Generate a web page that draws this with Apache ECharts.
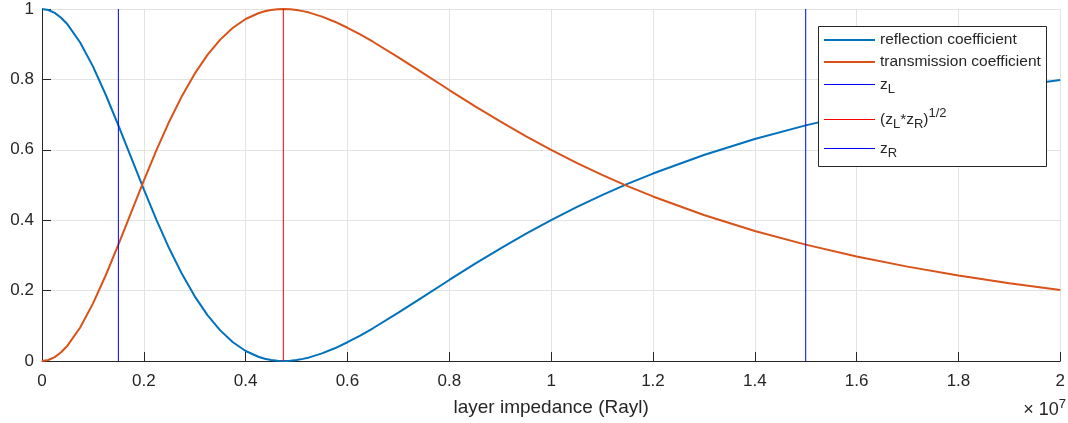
<!DOCTYPE html>
<html>
<head>
<meta charset="utf-8">
<script src="https://cdn.jsdelivr.net/npm/echarts@6/dist/echarts.min.js"></script>
<style>
  html, body { margin: 0; padding: 0; background: #ffffff; }
  #chart { width: 1068px; height: 423px; }
</style>
</head>
<body>
<div id="chart"></div>
<script>
// Layer impedance in units of 1e7 Rayl
const impedance = [
  0, 0.0125, 0.025, 0.0375, 0.05, 0.075, 0.1, 0.125, 0.15, 0.175, 0.2, 0.225, 0.25, 0.275,
  0.3, 0.325, 0.35, 0.375, 0.4, 0.425, 0.4375, 0.45, 0.4625, 0.474, 0.4875, 0.5, 0.5125, 0.525,
  0.55, 0.575, 0.6, 0.625, 0.65, 0.7, 0.75, 0.8, 0.85, 0.9, 0.95, 1.0, 1.05, 1.1, 1.15, 1.2,
  1.3, 1.4, 1.5, 1.6, 1.7, 1.8, 1.9, 2.0
];
const reflection = [
  1.0, 0.9972, 0.9889, 0.9753, 0.9565, 0.9048, 0.8370, 0.7571, 0.6694, 0.5782, 0.4874, 0.4003, 0.3195, 0.2469,
  0.1837, 0.1304, 0.0870, 0.0533, 0.0285, 0.0120, 0.0065, 0.0028, 0.0006, 0.0, 0.0008, 0.0028, 0.0060, 0.0102,
  0.0216, 0.0361, 0.0533, 0.0724, 0.0930, 0.1374, 0.1837, 0.2302, 0.2757, 0.3195, 0.3611, 0.4003, 0.4370, 0.4712, 0.5030, 0.5325,
  0.5852, 0.6305, 0.6694, 0.7030, 0.7320, 0.7571, 0.7791, 0.7983
];
const transmission = [
  0.0, 0.0028, 0.0111, 0.0247, 0.0435, 0.0952, 0.1630, 0.2429, 0.3306, 0.4218, 0.5126, 0.5998, 0.6805, 0.7531,
  0.8163, 0.8696, 0.9130, 0.9467, 0.9715, 0.9880, 0.9935, 0.9972, 0.9994, 1.0, 0.9993, 0.9972, 0.9940, 0.9898,
  0.9784, 0.9639, 0.9467, 0.9276, 0.9070, 0.8626, 0.8163, 0.7698, 0.7243, 0.6805, 0.6389, 0.5998, 0.5631, 0.5288, 0.4970, 0.4675,
  0.4148, 0.3695, 0.3306, 0.2970, 0.2681, 0.2429, 0.2209, 0.2017
];

// Reference impedances (1e7 Rayl)
const zLeft = 0.15;
const zRight = 1.5;
const zGeoMean = 0.474;

const xTicks = [0, 0.2, 0.4, 0.6, 0.8, 1, 1.2, 1.4, 1.6, 1.8, 2];
const yTicks = [0, 0.2, 0.4, 0.6, 0.8, 1];
const xTickLabels = ['0', '0.2', '0.4', '0.6', '0.8', '1', '1.2', '1.4', '1.6', '1.8', '2'];
const yTickLabels = ['0', '0.2', '0.4', '0.6', '0.8', '1'];

const names = {
  refl: 'reflection coefficient',
  trans: 'transmission coefficient',
  zl: 'zL',
  zm: 'zLzR',
  zr: 'zR'
};

const TEXT = '#262626';
const FONT = '"Liberation Sans", Arial, Helvetica, sans-serif';

const zip = (xs, ys) => xs.map((x, i) => [x, ys[i]]);
const vline = x => [[x, yTicks[0]], [x, yTicks[yTicks.length - 1]]];

function tickLabel(ticks, labels) {
  return v => {
    const i = ticks.findIndex(t => Math.abs(t - v) < 1e-9);
    return i >= 0 ? labels[i] : '';
  };
}

const legendRich = {
  m: { fontSize: 15.5, fontFamily: FONT, color: TEXT },
  s: { fontSize: 13, fontFamily: FONT, color: TEXT, padding: [10, 0, 0, 0] },
  p: { fontSize: 13, fontFamily: FONT, color: TEXT, padding: [0, 0, 12, 0] }
};

function legendLabel(name) {
  if (name === names.zl) return '{m|z}{s|L}';
  if (name === names.zr) return '{m|z}{s|R}';
  if (name === names.zm) return '{m|(z}{s|L}{m|*z}{s|R}{m|)}{p|1/2}';
  return '{m|' + name + '}';
}

function legendAt(name, top, thick) {
  return {
    data: [name],
    left: 824,
    top: top,
    padding: 0,
    icon: 'rect',
    itemWidth: 51,
    itemHeight: thick,
    selectedMode: false,
    formatter: legendLabel,
    textStyle: { color: TEXT, fontFamily: FONT, fontSize: 15.5, rich: legendRich },
    z: 5
  };
}

const chart = echarts.init(document.getElementById('chart'), null, { renderer: 'canvas' });

chart.setOption({
  animation: false,
  backgroundColor: '#ffffff',
  grid: { left: 42, right: 5, top: 9, bottom: 62, containLabel: false },
  xAxis: {
    type: 'value',
    min: xTicks[0],
    max: xTicks[xTicks.length - 1],
    interval: xTicks[1] - xTicks[0],
    name: 'layer impedance (Rayl)',
    nameLocation: 'middle',
    nameGap: 37,
    nameTextStyle: { color: TEXT, fontFamily: FONT, fontSize: 19 },
    axisLine: { show: true, onZero: false, lineStyle: { color: TEXT, width: 1 } },
    axisTick: { show: true, inside: true, length: 9, lineStyle: { color: TEXT } },
    axisLabel: { color: TEXT, fontFamily: FONT, fontSize: 17, margin: 12, formatter: tickLabel(xTicks, xTickLabels) },
    splitLine: { show: true, lineStyle: { color: '#e3e3e3', width: 1 } }
  },
  yAxis: {
    type: 'value',
    min: yTicks[0],
    max: yTicks[yTicks.length - 1],
    interval: yTicks[1] - yTicks[0],
    axisLine: { show: true, onZero: false, lineStyle: { color: TEXT, width: 1 } },
    axisTick: { show: true, inside: true, length: 9, lineStyle: { color: TEXT } },
    axisLabel: { color: TEXT, fontFamily: FONT, fontSize: 17, margin: 8, formatter: tickLabel(yTicks, yTickLabels) },
    splitLine: { show: true, lineStyle: { color: '#e3e3e3', width: 1 } }
  },
  legend: [
    legendAt(names.refl, 32, 2),
    legendAt(names.trans, 54, 2),
    legendAt(names.zl, 76.5, 1),
    legendAt(names.zm, 107, 1),
    legendAt(names.zr, 140.5, 1)
  ],
  graphic: [
    {
      type: 'rect',
      z: 3,
      shape: { x: 818.5, y: 26.5, width: 228, height: 140 },
      style: { fill: '#ffffff', stroke: TEXT, lineWidth: 1 }
    },
    {
      type: 'text',
      z: 3,
      right: 2,
      top: 398,
      style: {
        rich: {
          a: { fontSize: 18, fontFamily: FONT, fill: TEXT },
          b: { fontSize: 13, fontFamily: FONT, fill: TEXT, padding: [0, 0, 12, 0] }
        },
        text: '{a|\u00d7 10}{b|7}'
      }
    }
  ],
  series: [
    {
      name: names.refl, type: 'line', data: zip(impedance, reflection),
      showSymbol: false, symbol: 'none', color: '#0072BD',
      lineStyle: { color: '#0072BD', width: 2 }, z: 2
    },
    {
      name: names.trans, type: 'line', data: zip(impedance, transmission),
      showSymbol: false, symbol: 'none', color: '#D95319',
      lineStyle: { color: '#D95319', width: 2 }, z: 2
    },
    {
      name: names.zl, type: 'line', data: vline(zLeft),
      showSymbol: false, symbol: 'none', color: '#0000FF',
      lineStyle: { color: '#0000FF', width: 1 }, z: 2
    },
    {
      name: names.zm, type: 'line', data: vline(zGeoMean),
      showSymbol: false, symbol: 'none', color: '#FF0000',
      lineStyle: { color: '#FF0000', width: 1 }, z: 2
    },
    {
      name: names.zr, type: 'line', data: vline(zRight),
      showSymbol: false, symbol: 'none', color: '#0000FF',
      lineStyle: { color: '#0000FF', width: 1 }, z: 2
    }
  ]
});
</script>
</body>
</html>
